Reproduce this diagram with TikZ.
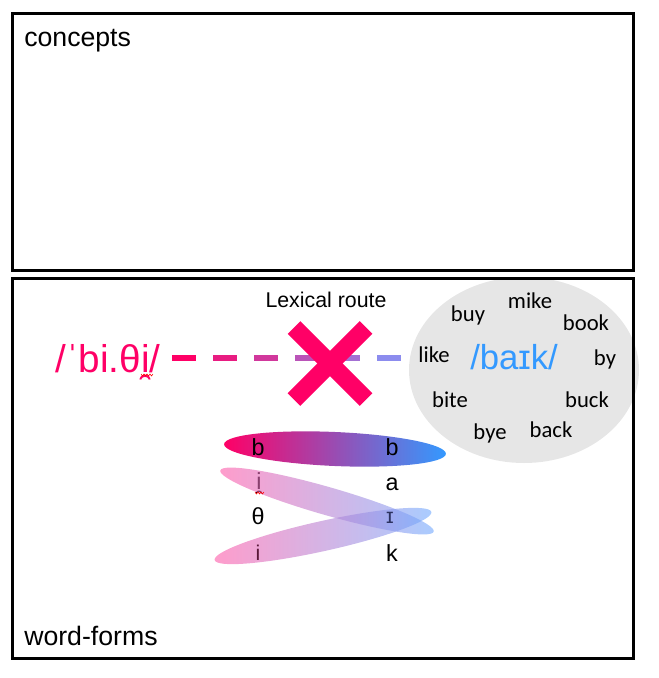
\documentclass[tikz,border=0pt]{standalone}
\usepackage{fontspec}
\setmainfont{Liberation Sans}
\newfontfamily\calfont{Carlito}
\usetikzlibrary{calc}
\definecolor{hot}{HTML}{FF0066}
\definecolor{lav}{HTML}{8C8CEE}
\definecolor{skyb}{HTML}{3399FF}
\definecolor{grey1}{HTML}{E6E6E6}
\definecolor{purp}{HTML}{C46AD0}
\definecolor{pinkl}{HTML}{FF5AA8}
\definecolor{bluel}{HTML}{70AAFF}
\definecolor{darkmaroon}{HTML}{5A1838}
\definecolor{darknavy}{HTML}{2C3260}
\begin{document}
\begin{tikzpicture}[x=0.75pt,y=-0.75pt,
  panel/.style={draw=black,line width=2.25pt},
  lbl/.style={anchor=base west,inner sep=0pt,font=\fontsize{20}{24}\selectfont},
  word/.style={anchor=base,inner sep=0pt,font=\calfont\fontsize{17}{20}\selectfont},
  phon/.style={anchor=base,inner sep=0pt,font=\fontsize{17.5}{20}\selectfont},
  dashseg/.style={line width=4.5pt},
  spell/.style={draw=red,line width=0.4pt}]
\useasboundingbox (0,0) rectangle (658,678);
% neighbourhood cloud
\fill[grey1] (524,370) ellipse [x radius=115, y radius=93];
% panels
\draw[panel] (12.5,13.5) rectangle (633.5,270);
\draw[panel] (12.5,278.5) rectangle (633.5,658.5);
\node[lbl] (concepts) at (24,46) {concepts};
\node[lbl] (wordforms) at (24,645) {word-forms};
% route label
\node[lbl,font=\fontsize{16}{20}\selectfont,anchor=base] (lex) at (326,307) {Lexical route};
% phonological forms
\node[anchor=base west,inner sep=0pt,text=hot,font=\fontsize{29}{34}\selectfont] (bitha) at (55,372) {/ˈbi.θi̯/};
\node[anchor=base,inner sep=0pt,text=skyb,font=\fontsize{26}{30}\selectfont] (baik) at (514,369) {/baɪk/};
% neighbours
\node[word] (buy) at (468,321) {buy};
\node[word] (mike) at (530,308) {mike};
\node[word] (book) at (586,330) {book};
\node[word] (like) at (434,362) {like};
\node[word] (by) at (605,365) {by};
\node[word] (bite) at (450,407) {bite};
\node[word] (buck) at (587,407) {buck};
\node[word] (bye) at (490,439) {bye};
\node[word] (back) at (551,437) {back};
% dashed gradient lexical route
\coordinate (d0) at (172,358);
\foreach \i in {0,...,5}{
  \pgfmathtruncatemacro{\pc}{100-20*\i}
  \draw[dashseg,color=hot!\pc!lav] ($(d0)+(\i*41,0)$) -- ($(d0)+(\i*41+24,0)$);
}
% the cross
\coordinate (xc) at (330,363.5);
\draw[hot,line width=13.5pt] ($(xc)+(-36,-36)$) -- ($(xc)+(36,36)$);
\draw[hot,line width=13.5pt] ($(xc)+(36,-36)$) -- ($(xc)+(-36,36)$);
% sublexical mapping
\shade[left color=hot, middle color=purp, right color=skyb, rotate around={-2.5:(335,449)}] (335,449) ellipse [x radius=111, y radius=17];
\node[phon] (lb) at (258,455) {b};
\node[phon] (li1) at (259,489) {i̯};
\node[phon] (lth) at (258,524) {θ};
\node[phon] (rb) at (392,455) {b};
\node[phon] (ra) at (392,490) {a};
\node[phon] (rk) at (392,561) {k};
\shade[left color=pinkl, right color=bluel, fill opacity=0.6, rotate around={-16:(327,501)}] (327,501) ellipse [x radius=111, y radius=14];
\shade[left color=pinkl, right color=bluel, fill opacity=0.6, rotate around={12.5:(323,536)}] (323,536) ellipse [x radius=111, y radius=15];
\node[phon,text=darkmaroon,font=\fontsize{16}{20}\selectfont] (li2) at (258,560) {i};
\node[phon,text=darknavy,font=\fontsize{16}{20}\selectfont] (rI) at (390,523) {ɪ};
% spell-check squiggles
\draw[spell] (141,374)--(142.5,376)--(144,374)--(145.5,376)--(147,374)--(148.5,376)--(150,374)--(151.5,376)--(153,374);
\draw[spell] (255,492)--(256.5,494)--(258,492)--(259.5,494)--(261,492)--(262.5,494)--(264,492);
\end{tikzpicture}
\end{document}
